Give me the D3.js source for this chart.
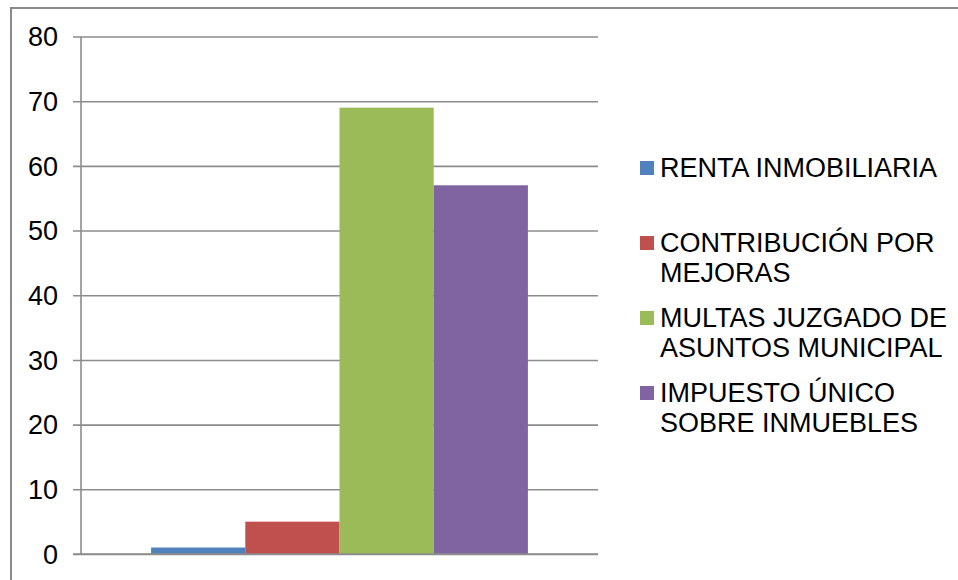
<!DOCTYPE html>
<html>
<head>
<meta charset="utf-8">
<script src="https://cdnjs.cloudflare.com/ajax/libs/d3/7.8.5/d3.min.js"></script>
<style>
  html, body { margin: 0; padding: 0; background: #fff; }
  svg { display: block; font-family: "Liberation Sans", Arial, sans-serif; }
</style>
</head>
<body>
<svg id="chart" width="958" height="580"></svg>
<script>
const categories = [""];
const seriesNames = [
  ["RENTA INMOBILIARIA"],
  ["CONTRIBUCIÓN POR", "MEJORAS"],
  ["MULTAS JUZGADO DE", "ASUNTOS MUNICIPAL"],
  ["IMPUESTO ÚNICO", "SOBRE INMUEBLES"]
];
const seriesValues = [1, 5, 69, 57];
const seriesColors = ["#4F81BD", "#C0504D", "#9BBB59", "#8064A2"];
const yTicks = [0, 10, 20, 30, 40, 50, 60, 70, 80];

const svg = d3.select("#chart");
const gridColor = "#8c8c8c";

// outer frame
svg.append("rect")
  .attr("x", 11).attr("y", 8)
  .attr("width", 1000).attr("height", 1000)
  .attr("fill", "none")
  .attr("stroke", "#8a8a8a")
  .attr("stroke-width", 2);

const plot = { left: 81, right: 598, top: 36.5, bottom: 554 };

const y = d3.scaleLinear().domain([0, 80]).range([plot.bottom, plot.top]);
const x0 = d3.scaleBand().domain(categories).range([plot.left, plot.right])
  .paddingInner(0).paddingOuter(0.186);
const x1 = d3.scaleBand().domain(d3.range(seriesValues.length)).range([0, x0.bandwidth()]).padding(0);

// gridlines + y axis
const yAxis = d3.axisLeft(y).tickValues(yTicks).tickSize(8).tickPadding(15);
const gAxis = svg.append("g").attr("transform", `translate(${plot.left},0)`).call(yAxis);
gAxis.select(".domain").remove();
gAxis.selectAll(".tick line")
  .attr("x1", -8).attr("x2", plot.right - plot.left)
  .attr("stroke", gridColor).attr("stroke-width", 1.6);
gAxis.selectAll(".tick text")
  .attr("font-size", 27)
  .attr("fill", "#000")
  .attr("font-family", "Liberation Sans, Arial, sans-serif")
  .attr("dy", "0.34em");

// y axis line
svg.append("line")
  .attr("x1", plot.left).attr("x2", plot.left)
  .attr("y1", plot.top).attr("y2", plot.bottom)
  .attr("stroke", gridColor).attr("stroke-width", 1.6);

// bars
const g = svg.append("g").attr("transform", `translate(${x0(categories[0])},0)`);
g.selectAll("rect.bar")
  .data(seriesValues)
  .join("rect")
  .attr("class", "bar")
  .attr("x", (d, i) => x1(i))
  .attr("width", x1.bandwidth())
  .attr("y", d => y(d))
  .attr("height", d => y(0) - y(d))
  .attr("fill", (d, i) => seriesColors[i]);

// redraw baseline over bars
svg.append("line")
  .attr("x1", plot.left - 8).attr("x2", plot.right)
  .attr("y1", y(0)).attr("y2", y(0))
  .attr("stroke", gridColor).attr("stroke-width", 1.6);

// legend
const legend = svg.append("g");
seriesNames.forEach((lines, i) => {
  const base = 176.5 + 75 * i;
  legend.append("rect")
    .attr("x", 640).attr("y", base - 15.5)
    .attr("width", 14).attr("height", 14)
    .attr("fill", seriesColors[i]);
  const t = legend.append("text")
    .attr("x", 660).attr("y", base)
    .attr("font-size", 27)
    .attr("fill", "#000");
  lines.forEach((ln, j) => {
    t.append("tspan").attr("x", 660).attr("y", base + 30 * j).text(ln);
  });
});
</script>
</body>
</html>
